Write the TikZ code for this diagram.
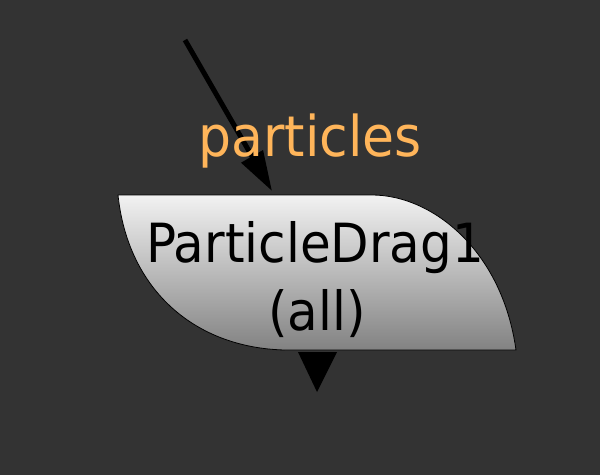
\documentclass[tikz,border=0pt]{standalone}
\usepackage{fontspec}
\setmainfont{DejaVu Sans}
\usepackage{graphicx}
\usepackage{tikz}
\usetikzlibrary{arrows.meta, positioning}
\definecolor{bgdark}{HTML}{333333}
\definecolor{labelorange}{HTML}{FFB55A}
\definecolor{shadetop}{HTML}{F2F2F2}
\definecolor{shadebottom}{HTML}{828282}
\newcommand{\tallText}[1]{\scalebox{1}[1.08]{#1}}
\tikzstyle{nodebody} = [draw=black, line width=0.8pt, top color=shadetop, bottom color=shadebottom]
\tikzstyle{nodetext} = [inner sep=0pt, anchor=base, font=\fontsize{50}{60}\selectfont]
\tikzstyle{wire} = [line width=5pt, -{Triangle[length=40pt,width=24pt]}]

\begin{document}
\begin{tikzpicture}[x=1pt, y=-1pt]

% Background
\fill[bgdark] (0,0) rectangle (600,475);

% Node body
\path[nodebody] (118,195) -- (372,195) .. controls (432,195) and (502,250) .. (516,350)
  -- (285,350) .. controls (195,348) and (128,290) .. (118,195) -- cycle;
\node (drag) [nodetext] at (315,262) {\tallText{ParticleDrag1}};
\node (mode) [nodetext] at (317,330) {\tallText{(all)}};

% Input
\coordinate (src) at (185,40);
\coordinate (inport) at (272,191);
\draw [wire] (src) -- (inport);
\node (particles) [nodetext, text=labelorange, font=\fontsize{52}{60}\selectfont] at (310,156) {\tallText{particles}};

% Output
\coordinate (outport) at (317,392);
\fill[black] (298,352) -- (337,352) -- (outport) -- cycle;

\end{tikzpicture}
\end{document}
